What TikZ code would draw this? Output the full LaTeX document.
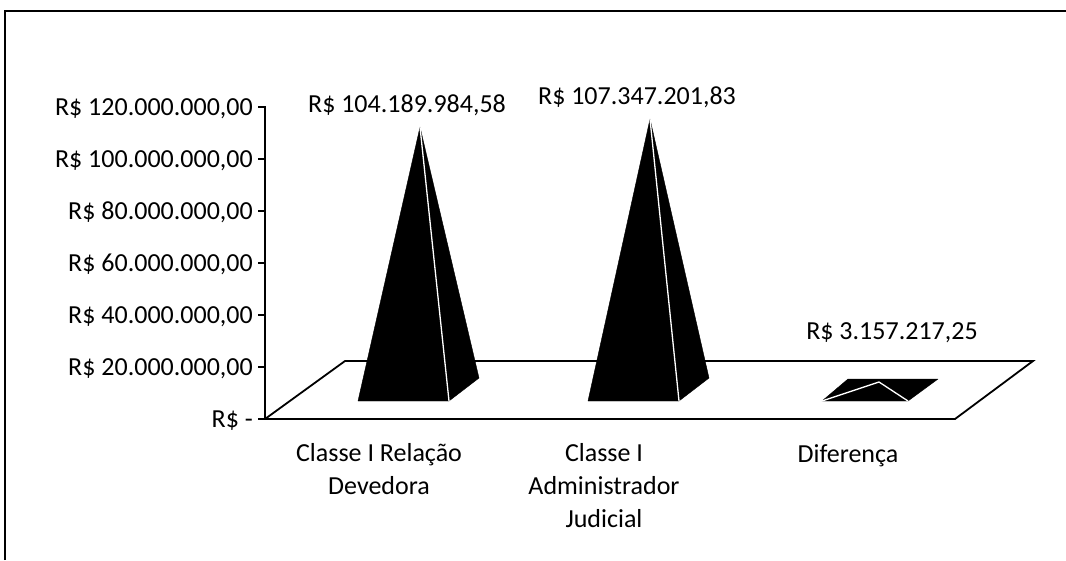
\documentclass[tikz,border=0pt]{standalone}
\usepackage{fontspec}
\setmainfont{Carlito}
\begin{document}
\begin{tikzpicture}[x=1pt,y=-1pt,
  lbl/.style={font=\fontsize{26}{33}\selectfont, inner sep=0pt},
  ticklbl/.style={lbl, anchor=base east},
  catlbl/.style={lbl, align=center, anchor=base},
  axisline/.style={line width=1.8pt},
  face/.style={fill=black, draw=black, line join=round},
  ridge/.style={draw=white, line width=1.3pt}]
\useasboundingbox (0,0) rectangle (1066,560);
% frame
\draw[line width=1.8pt] (5,560) -- (5,11) -- (1066,11);
% floor
\coordinate (fl) at (265,419);
\coordinate (fr) at (955,419);
\coordinate (bl) at (345,361);
\coordinate (br) at (1033,361);
\draw[axisline] (fl) -- (bl) -- (br) -- (fr) -- (fl);
% value axis
\coordinate (top) at (265,106);
\draw[axisline] (fl) -- (top);
\foreach \v/\t in {0/{R\$ -}, 1/{R\$ 20.000.000,00}, 2/{R\$ 40.000.000,00},
  3/{R\$ 60.000.000,00}, 4/{R\$ 80.000.000,00}, 5/{R\$ 100.000.000,00},
  6/{R\$ 120.000.000,00}}{
  \draw[axisline] (258,419-52*\v) -- (265,419-52*\v);
  \node[ticklbl] (tick\v) at (253,427-52*\v) {\t};
}
% pyramids
\foreach \n/\x/\h in {1/358/127, 2/588/119}{
  \coordinate (p\n-a) at (\x,401);
  \coordinate (p\n-b) at (\x+91,401);
  \coordinate (p\n-c) at (\x+121,378);
  \coordinate (p\n-t) at (\x+62,\h);
  \filldraw[face] (p\n-a) -- (p\n-b) -- (p\n-c) -- (p\n-t) -- cycle;
  \draw[ridge] (p\n-t) -- (p\n-b);
}
\coordinate (p3-a) at (822,401);
\coordinate (p3-b) at (908,401);
\coordinate (p3-c) at (938,379);
\coordinate (p3-d) at (848,379);
\coordinate (p3-t) at (879,382);
\filldraw[face] (p3-a) -- (p3-b) -- (p3-c) -- (p3-d) -- cycle;
\draw[ridge] (p3-a) -- (p3-t) -- (p3-b);
% data labels
\node[lbl, anchor=base] (val1) at (407,112) {R\$ 104.189.984,58};
\node[lbl, anchor=base] (val2) at (637,104) {R\$ 107.347.201,83};
\node[lbl, anchor=base] (val3) at (892,339) {R\$ 3.157.217,25};
% categories (base = last line)
\node[catlbl] (cat1) at (379,494) {Classe I Relação\\Devedora};
\node[catlbl] (cat2) at (604,527) {Classe I\\Administrador\\Judicial};
\node[catlbl] (cat3) at (848,462) {Diferença};
\end{tikzpicture}
\end{document}
